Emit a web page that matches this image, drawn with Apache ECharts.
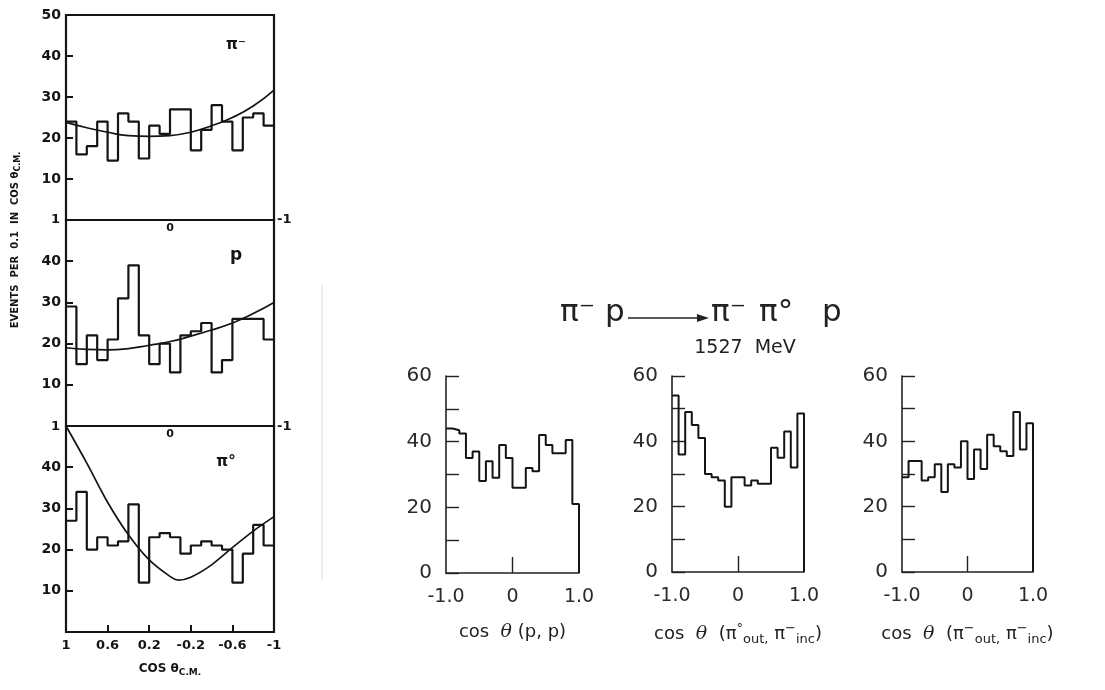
<!DOCTYPE html>
<html>
<head>
<meta charset="utf-8">
<script src="https://cdn.jsdelivr.net/npm/echarts@6/dist/echarts.min.js"></script>
<style>
html, body { margin: 0; padding: 0; background: #fff; }
#main { width: 1105px; height: 690px; }
</style>
</head>
<body>
<div id="main"></div>
<script>
// left column: cos theta C.M. runs from 1 (left) to -1 (right), bins of 0.1
var cmEdges = [1.0, 0.9, 0.8, 0.7, 0.6, 0.5, 0.4, 0.3, 0.2, 0.1, 0.0, -0.1, -0.2, -0.3, -0.4, -0.5, -0.6, -0.7, -0.8, -0.9];
var piMinusCM = [24, 16, 18, 24, 14.5, 26, 24, 15, 23, 21, 27, 27, 17, 22, 28, 24, 17, 25, 26, 23];
var protonCM  = [29, 15, 22, 16, 21, 31, 39, 22, 15, 20, 13, 22, 23, 25, 13, 16, 26, 26, 26, 21];
var piZeroCM  = [27, 34, 20, 23, 21, 22, 31, 12, 23, 24, 23, 19, 21, 22, 21, 20, 12, 19, 26, 21];

// fitted curves
var fitCos      = [1.0, 0.8, 0.6, 0.4, 0.2, 0.0, -0.2, -0.4, -0.6, -0.8, -1.0];
var piMinusFit  = [23.8, 22.5, 21.4, 20.6, 20.4, 20.6, 21.4, 23.0, 25.0, 27.8, 31.7];
var protonFit   = [19.0, 18.6, 18.5, 18.8, 19.6, 20.5, 21.8, 23.3, 25.0, 27.3, 30.0];
var piZeroFitCos = [1.0, 0.8, 0.6, 0.4, 0.2, 0.0, -0.08, -0.2, -0.4, -0.6, -0.8, -1.0];
var piZeroFit    = [50, 41, 31.5, 23.6, 17.5, 13.5, 12.6, 13.3, 16.3, 20.5, 24.5, 28];

var cmYTicksTop = [10, 20, 30, 40, 50];
var cmYTicks = [10, 20, 30, 40];
var cmXTicks = [0.6, 0.2, -0.2, -0.6];
var cmXLabels = [1, 0.6, 0.2, -0.2, -0.6, -1];

// right side: 1527 MeV, cos theta from -1 to 1
var binEdges = [-1.0, -0.9, -0.8, -0.7, -0.6, -0.5, -0.4, -0.3, -0.2, -0.1, 0.0, 0.1, 0.2, 0.3, 0.4, 0.5, 0.6, 0.7, 0.8, 0.9];
var ppVals   = [44, 43.5, 42.5, 35, 37, 28, 34, 29, 39, 35, 26, 26, 32, 31, 42, 39, 36.5, 36.5, 40.5, 21];
var pi0Vals  = [54, 36, 49, 45, 41, 30, 29, 28, 20, 29, 29, 26.5, 28, 27, 27, 38, 35, 43, 32, 48.5];
var piMVals  = [29, 34, 34, 28, 29, 33, 24.5, 33, 32, 40, 28.5, 37.5, 31.5, 42, 38.5, 37, 35.5, 49, 37.5, 45.5];

var rightYTicks = [0, 20, 40, 60];
var rightXTicks = [-1, 0, 1];
var rightXLabels = ['-1.0', '0', '1.0'];

var ink = '#141414';
var boldFont = 'DejaVu Sans';

function stepData(edges, vals, end, drop) {
	var d = edges.map(function (x, i) { return [x, vals[i]]; });
	d.push([end, vals[vals.length - 1]]);
	if (drop) { d.push([end, 0]); }
	return d;
}

function pairs(xs, ys) {
	return xs.map(function (x, i) { return [x, ys[i]]; });
}

var grids = [
	{ left: 66, top: 15, width: 208, height: 205 },
	{ left: 66, top: 220, width: 208, height: 206 },
	{ left: 66, top: 426, width: 208, height: 206 },
	{ left: 446, top: 376, width: 133, height: 197 },
	{ left: 672, top: 376, width: 132, height: 196 },
	{ left: 902, top: 376, width: 131, height: 196 }
];
grids.forEach(function (g, i) {
	if (i < 3) {
		g.show = true;
		g.borderColor = ink;
		g.borderWidth = 2.2;
	}
});

var xAxes = [], yAxes = [];
for (var i = 0; i < 3; i++) {
	var xa = {
		gridIndex: i, type: 'value', min: -1, max: 1, inverse: true,
		axisLine: { show: false, onZero: false },
		splitLine: { show: false }
	};
	if (i < 2) {
		xa.axisTick = { show: false };
		xa.axisLabel = { customValues: [0], formatter: function () { return '0'; },
			margin: 3, fontFamily: boldFont, fontWeight: 'bold', fontSize: 11, color: ink };
	} else {
		xa.axisTick = { show: true, inside: true, length: 7, customValues: cmXTicks, lineStyle: { color: ink, width: 2 } };
		xa.axisLabel = { customValues: cmXLabels, margin: 7, fontFamily: boldFont, fontWeight: 'bold', fontSize: 13, color: ink };
		xa.name = '{a|COS θ}{s|C.M.}';
		xa.nameLocation = 'middle';
		xa.nameGap = 28;
		xa.nameTextStyle = {
			rich: {
				a: { fontFamily: boldFont, fontWeight: 'bold', fontSize: 12, color: ink },
				s: { fontFamily: boldFont, fontWeight: 'bold', fontSize: 9, color: ink, padding: [8, 0, 0, 0] }
			}
		};
	}
	xAxes.push(xa);
	var yt = i === 0 ? cmYTicksTop : cmYTicks;
	yAxes.push({
		gridIndex: i, type: 'value', min: 0, max: 50, interval: 10,
		axisLine: { show: false, onZero: false },
		axisTick: { show: true, inside: true, length: 7, customValues: yt, lineStyle: { color: ink, width: 2 } },
		axisLabel: { customValues: yt, margin: 5, fontFamily: boldFont, fontWeight: 'bold', fontSize: 14, color: ink },
		splitLine: { show: false }
	});
}

var rightNames = [
	'{t|cos  }{i|θ}{t| (p, p)}',
	'{t|cos  }{i|θ}{t|  (π}{p|°}{b|out,}{t| π}{p|−}{b|inc}{t|)}',
	'{t|cos  }{i|θ}{t|  (π}{p|−}{b|out,}{t| π}{p|−}{b|inc}{t|)}'
];
var nameRich = {
	t: { fontFamily: 'DejaVu Sans', fontSize: 18, color: '#222' },
	i: { fontFamily: 'DejaVu Serif', fontStyle: 'italic', fontSize: 19, color: '#222' },
	p: { fontFamily: 'DejaVu Sans', fontSize: 13, color: '#222', padding: [0, 0, 12, 0] },
	b: { fontFamily: 'DejaVu Sans', fontSize: 13, color: '#222', padding: [10, 0, 0, 0] }
};

for (var j = 0; j < 3; j++) {
	xAxes.push({
		gridIndex: 3 + j, type: 'value', min: -1, max: 1,
		axisLine: { show: true, onZero: false, lineStyle: { color: '#222', width: 1.6 } },
		axisTick: { show: true, inside: true, length: 16, customValues: [0], lineStyle: { color: '#222', width: 1.4 } },
		axisLabel: {
			customValues: rightXTicks, margin: 15, fontFamily: 'DejaVu Sans', fontSize: 19, color: '#2a2a2a',
			formatter: function (v) { return rightXLabels[rightXTicks.indexOf(v)]; }
		},
		splitLine: { show: false },
		name: rightNames[j],
		nameLocation: 'middle',
		nameGap: 50,
		nameTextStyle: { rich: nameRich }
	});
	yAxes.push({
		gridIndex: 3 + j, type: 'value', min: 0, max: 60, interval: 10,
		axisLine: { show: true, onZero: false, lineStyle: { color: '#222', width: 1.6 } },
		axisTick: { show: true, inside: true, length: 13, lineStyle: { color: '#222', width: 1.4 } },
		axisLabel: { customValues: rightYTicks, margin: 14, fontFamily: 'DejaVu Sans', fontSize: 20, color: '#2a2a2a' },
		splitLine: { show: false }
	});
}

function histSeries(idx, data, w) {
	return {
		type: 'line', xAxisIndex: idx, yAxisIndex: idx, step: 'end',
		showSymbol: false, silent: true, data: data,
		lineStyle: { color: ink, width: w }
	};
}
function fitSeries(idx, data, smooth) {
	return {
		type: 'line', xAxisIndex: idx, yAxisIndex: idx, smooth: smooth,
		showSymbol: false, silent: true, data: data,
		lineStyle: { color: ink, width: 1.7 }
	};
}

var series = [
	histSeries(0, stepData(cmEdges, piMinusCM, -1, false), 2.2),
	histSeries(1, stepData(cmEdges, protonCM, -1, false), 2.2),
	histSeries(2, stepData(cmEdges, piZeroCM, -1, false), 2.2),
	fitSeries(0, pairs(fitCos, piMinusFit), true),
	fitSeries(1, pairs(fitCos, protonFit), true),
	fitSeries(2, pairs(piZeroFitCos, piZeroFit), 0.3),
	histSeries(3, stepData(binEdges, ppVals, 1, true), 2),
	histSeries(4, stepData(binEdges, pi0Vals, 1, true), 2),
	histSeries(5, stepData(binEdges, piMVals, 1, true), 2)
];

function label(x, y, text, size, align) {
	return {
		type: 'text', x: x, y: y, silent: true,
		style: { text: text, fill: ink, font: 'bold ' + size + 'px "DejaVu Sans"', align: align || 'center', verticalAlign: 'middle' }
	};
}
function titlePart(x, text) {
	return {
		type: 'text', x: x, y: 313, silent: true,
		style: { text: text, fill: '#222', font: '31px "DejaVu Sans"', verticalAlign: 'middle' }
	};
}

var graphics = [
	{
		type: 'text', x: 15, y: 240, rotation: Math.PI / 2, silent: true,
		style: {
			text: '{a|EVENTS  PER  0.1  IN  COS θ}{s|C.M.}',
			align: 'center', verticalAlign: 'middle',
			rich: {
				a: { fontFamily: boldFont, fontWeight: 'bold', fontSize: 10, fill: ink, color: ink },
				s: { fontFamily: boldFont, fontWeight: 'bold', fontSize: 8, fill: ink, color: ink, padding: [6, 0, 0, 0] }
			}
		}
	},
	label(236, 45, 'π⁻', 15),
	label(236, 256, 'p', 17),
	label(226, 462, 'π°', 15),
	label(60, 220, '1', 13, 'right'),
	label(277, 220, '-1', 13, 'left'),
	label(60, 427, '1', 13, 'right'),
	label(277, 427, '-1', 13, 'left'),
	titlePart(560, 'π⁻ p'),
	{
		type: 'line', silent: true,
		shape: { x1: 628, y1: 318, x2: 700, y2: 318 },
		style: { stroke: '#222', lineWidth: 1.6 }
	},
	{
		type: 'polygon', silent: true,
		shape: { points: [[697, 314], [709, 318], [697, 322]] },
		style: { fill: '#222' }
	},
	titlePart(711, 'π⁻'),
	titlePart(759, 'π°'),
	titlePart(822, 'p'),
	{
		type: 'text', x: 745, y: 348, silent: true,
		style: { text: '1527  MeV', fill: '#222', font: '19px "DejaVu Sans"', align: 'center', verticalAlign: 'middle' }
	},
	{
		type: 'line', silent: true,
		shape: { x1: 322, y1: 285, x2: 322, y2: 580 },
		style: { stroke: '#dcdcdc', lineWidth: 1 }
	}
];

var chart = echarts.init(document.getElementById('main'));
chart.setOption({
	animation: false,
	backgroundColor: '#fff',
	grid: grids,
	xAxis: xAxes,
	yAxis: yAxes,
	series: series,
	graphic: graphics
});
</script>
</body>
</html>
